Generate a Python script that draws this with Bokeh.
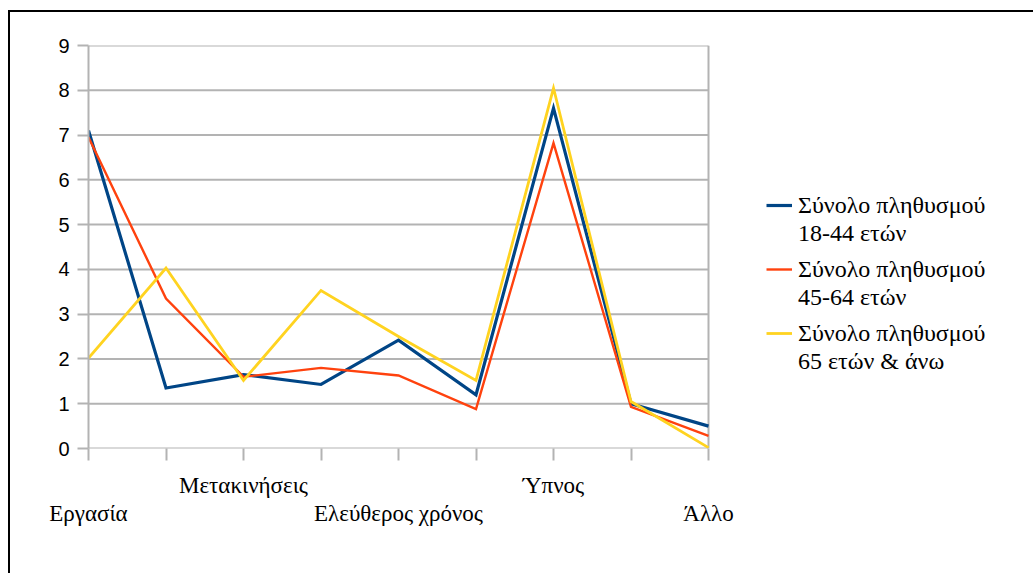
from bokeh.plotting import figure
from bokeh.models import Range1d, FixedTicker, LinearAxis, Legend, LegendItem, ColumnDataSource
from bokeh.embed import file_html
from bokeh.resources import INLINE

categories = ["Εργασία", "", "Μετακινήσεις", "", "Ελεύθερος χρόνος", "", "Ύπνος", "", "Άλλο"]
series_names = ["Σύνολο πληθυσμού\n18-44 ετών", "Σύνολο πληθυσμού\n45-64 ετών", "Σύνολο πληθυσμού\n65 ετών & άνω"]
v_18_44 = [7.1, 1.35, 1.65, 1.43, 2.42, 1.2, 7.6, 1.0, 0.5]
v_45_64 = [6.95, 3.35, 1.6, 1.8, 1.63, 0.88, 6.82, 0.93, 0.28]
v_65 = [2.02, 4.03, 1.52, 3.53, 2.5, 1.52, 8.05, 1.05, 0.02]
y_ticks = [0, 1, 2, 3, 4, 5, 6, 7, 8, 9]

colors = ["#004586", "#ff420e", "#ffd320"]
widths = [3.2, 2.4, 2.8]

SERIF = "serif"
SANS = "Liberation Sans"

FIG_W, FIG_H = 1033, 573
LEFT, TOP, BOTTOM = 88, 45, 125
PLOT_W = 620  # width of the drawn plot area in px

xs = list(range(len(categories)))
x_last = len(categories) - 1
x_max = x_last * (FIG_W - LEFT) / PLOT_W
src = ColumnDataSource(dict(x=xs, a=v_18_44, b=v_45_64, c=v_65))

p = figure(width=FIG_W, height=FIG_H, x_range=Range1d(0, x_max), y_range=Range1d(0, y_ticks[-1]),
           output_backend="svg", toolbar_location=None,
           x_axis_location=None, y_axis_location=None,
           min_border_left=LEFT, min_border_right=0, min_border_top=TOP, min_border_bottom=BOTTOM)
p.border_fill_alpha = 0
p.background_fill_alpha = 0
p.outline_line_color = None
p.styles = {
    "background": "linear-gradient(#000,#000) 8px 10px / 2px 100% no-repeat, "
                  "linear-gradient(#000,#000) 8px 10px / 100% 2px no-repeat, white"
}

grid_col = "#b3b3b3"
p.xgrid.visible = False
p.ygrid.visible = False
# horizontal gridlines and right edge of the plot area
p.segment(x0=[0] * len(y_ticks), x1=[x_last] * len(y_ticks), y0=y_ticks, y1=y_ticks,
          line_color=grid_col, line_width=2)
p.segment(x0=[x_last], x1=[x_last], y0=[y_ticks[0]], y1=[y_ticks[-1]], line_color=grid_col, line_width=2)

yax = LinearAxis(ticker=FixedTicker(ticks=y_ticks))
yax.axis_line_color = grid_col
yax.axis_line_width = 2
yax.major_tick_line_color = grid_col
yax.major_tick_line_width = 2
yax.major_tick_out = 11
yax.major_tick_in = 0
yax.minor_tick_line_color = None
yax.major_label_standoff = 8
yax.major_label_text_font = SANS
yax.major_label_text_font_size = "20px"
yax.major_label_text_color = "black"
p.add_layout(yax, "left")

upper = {i: (c if i % 4 == 2 else "") for i, c in enumerate(categories)}
lower = {i: (c if i % 4 == 0 else "") for i, c in enumerate(categories)}

xax1 = LinearAxis(ticker=FixedTicker(ticks=xs), major_label_overrides=upper)
xax1.axis_line_color = None
xax1.major_tick_line_color = grid_col
xax1.major_tick_line_width = 2
xax1.major_tick_out = 12
xax1.major_tick_in = 0
xax1.minor_tick_line_color = None
xax1.major_label_standoff = 12
xax1.major_label_text_font = SERIF
xax1.major_label_text_font_size = "23px"
xax1.major_label_text_color = "black"
p.add_layout(xax1, "below")

xax2 = LinearAxis(ticker=FixedTicker(ticks=xs), major_label_overrides=lower)
xax2.axis_line_color = None
xax2.major_tick_line_color = None
xax2.major_tick_out = 0
xax2.major_tick_in = 0
xax2.minor_tick_line_color = None
xax2.major_label_standoff = 0
xax2.major_label_text_font = SERIF
xax2.major_label_text_font_size = "23px"
xax2.major_label_text_color = "black"
p.add_layout(xax2, "below")

renderers = []
for col, c, w in zip(["a", "b", "c"], colors, widths):
    r = p.line("x", col, source=src, line_color=c, line_width=w, line_join="miter")
    renderers.append(r)

first_lines = [n.split("\n")[0] for n in series_names]
second_lines = [n.split("\n")[1] for n in series_names]


def make_legend(labels, loc, glyph_w, standoff):
    lg = Legend(items=[LegendItem(label=t, renderers=[r]) for t, r in zip(labels, renderers)],
                location=loc)
    lg.label_text_font = SERIF
    lg.label_text_font_size = "24px"
    lg.label_text_color = "black"
    lg.label_height = 28
    lg.glyph_height = 28
    lg.glyph_width = glyph_w
    lg.label_standoff = standoff
    lg.spacing = 36
    lg.padding = 0
    lg.margin = 0
    lg.border_line_color = None
    lg.background_fill_alpha = 0
    return lg


p.add_layout(make_legend(first_lines, (678, 101), 26, 6), "center")
p.add_layout(make_legend(second_lines, (710, 73), 0, 0), "center")

open("out.html", "w").write(file_html(p, INLINE))
